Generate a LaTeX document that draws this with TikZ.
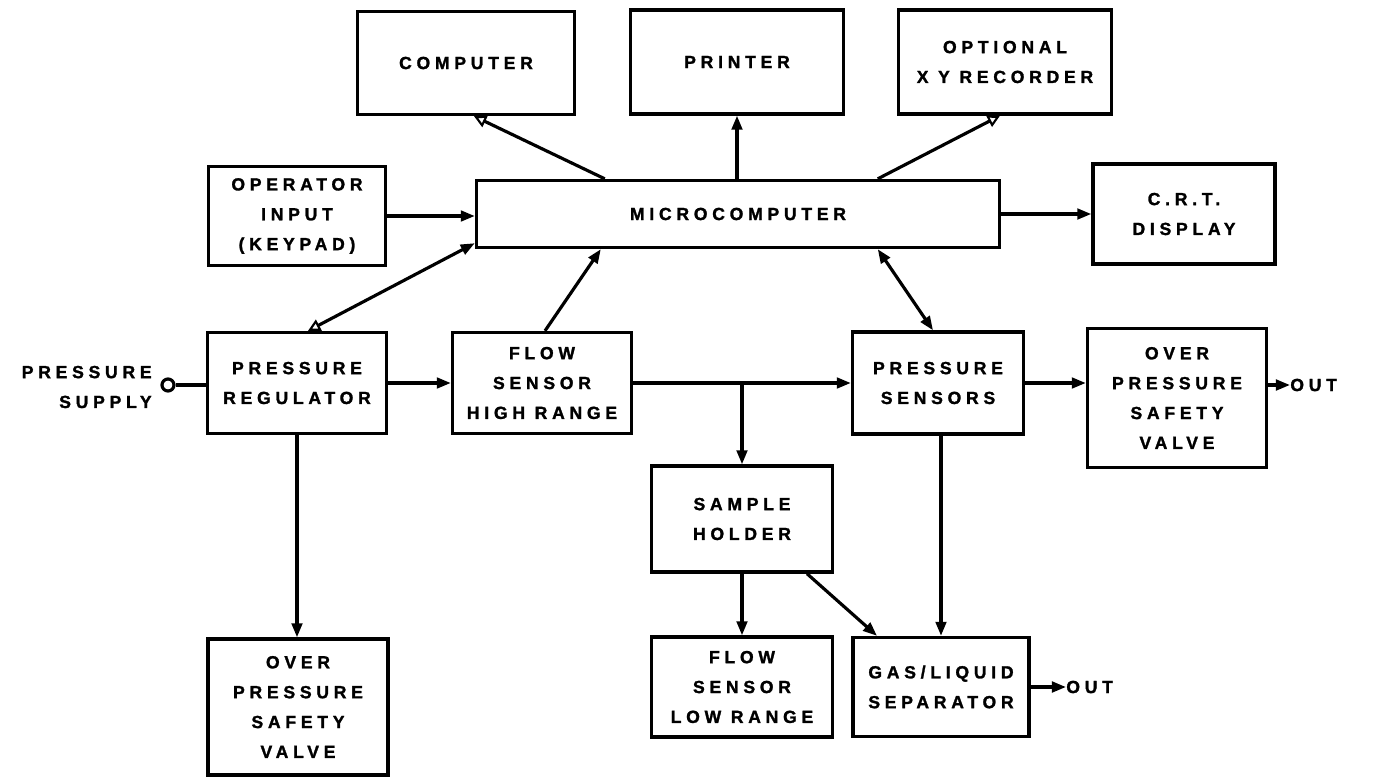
\documentclass[tikz,border=0pt]{standalone}
\usepackage{fontspec}
\newfontfamily\lblfont[LetterSpace=27,FakeBold=1.5]{Liberation Sans Bold}
\newcommand\lbl{\lblfont\fontsize{10}{17}\selectfont}
\usetikzlibrary{arrows.meta,positioning}

\begin{document}
\begin{tikzpicture}[
x=0.02cm, y=-0.02cm,
blk/.style 2 args={
  draw,
  line width=1.9pt,
  align=center,
  inner sep=0pt,
  minimum width=#1*0.02cm,
  minimum height=#2*0.02cm,
  font=\lbl
},
lab/.style={
  inner sep=0pt,
  font=\lbl
},
con/.style={
  line width=1.8pt,
  -{Triangle[length=8pt,width=6pt]}
},
ocon/.style={
  line width=1.8pt,
  -{Triangle[open,length=7pt,width=7pt,line width=1.2pt]}
},
bcon/.style={
  line width=1.8pt,
  {Triangle[length=8pt,width=6pt]}-{Triangle[length=8pt,width=6pt]}
}
]
\useasboundingbox (0,0) rectangle (1374,778);

% top row
\node[blk={217}{103}] (comp) at (466,63) {COMPUTER};
\node[blk={213}{104}] (prn) at (737,62) {PRINTER};
\node[blk={213}{104}] (xyrec) at (1005,62) {OPTIONAL\\X Y RECORDER};

% control row
\node[blk={177}{99}] (opin) at (297,216) {OPERATOR\\INPUT\\(KEYPAD)};
\node[blk={523}{67}] (micro) at (738,214) {MICROCOMPUTER};
\node[blk={182}{100}] (crt) at (1184,214) {C.R.T.\\DISPLAY};

% gas line
\node[lab,align=right,anchor=east] (supl) at (152,387) {PRESSURE\\SUPPLY};
\node[draw,circle,line width=1.8pt,minimum size=0.24cm,inner sep=0pt] (supc) at (168,385) {};
\node[blk={179}{101}] (preg) at (297,383) {PRESSURE\\REGULATOR};
\node[blk={179}{101}] (fshi) at (542,383) {FLOW\\SENSOR\\HIGH RANGE};
\node[blk={171}{102}] (psens) at (938,383) {PRESSURE\\SENSORS};
\node[blk={179}{139}] (opvr) at (1177,398) {OVER\\PRESSURE\\SAFETY\\VALVE};
\node[lab,anchor=west] (outr) at (1290,385) {OUT};

% lower part
\node[blk={181}{106}] (shold) at (742,519) {SAMPLE\\HOLDER};
\node[blk={180}{136}] (opvl) at (298,707) {OVER\\PRESSURE\\SAFETY\\VALVE};
\node[blk={181}{100}] (fslo) at (742,687) {FLOW\\SENSOR\\LOW RANGE};
\node[blk={176}{99}] (gls) at (941,687) {GAS/LIQUID\\SEPARATOR};
\node[lab,anchor=west] (outb) at (1066,687) {OUT};

% signals
\draw[ocon] ([xshift=2.6cm]micro.north west) -- ([xshift=0.16cm]comp.south);
\draw[con] (micro.north -| prn.south) -- (prn.south);
\draw[ocon] ([xshift=8.06cm]micro.north west) -- ([xshift=-0.1cm]xyrec.south);
\draw[con] (opin.east) -- (opin.east -| micro.west);
\draw[con] (micro.east) -- (micro.east -| crt.west);
\draw[line width=1.8pt,{Triangle[open,length=7pt,width=7pt,line width=1.2pt]}-{Triangle[length=8pt,width=6pt]}]
  ([xshift=0.22cm]preg.north) -- ([yshift=0.12cm]micro.south west);
\draw[con] ([xshift=0.06cm]fshi.north) -- ([xshift=2.52cm]micro.south west);
\draw[bcon] ([xshift=8.06cm]micro.south west) -- ([xshift=-0.1cm]psens.north);

% flow
\draw[line width=1.8pt] (supc) -- (preg.west |- supc);
\draw[con] (preg) -- (fshi);
\draw[con] (fshi) -- (psens);
\draw[con] (fshi.east -| shold.north) -- (shold.north);
\draw[con] (psens.east) -- (psens.east -| opvr.west);
\draw[con] (opvr.east |- outr.west) -- (outr.west);
\draw[con] (preg.south) -- (preg.south |- opvl.north);
\draw[con] (shold) -- (fslo);
\draw[con] ([xshift=1.3cm]shold.south) -- ([xshift=-1.28cm]gls.north);
\draw[con] (gls.north |- psens.south) -- (gls.north);
\draw[con] (gls.east |- outb.west) -- (outb.west);
\end{tikzpicture}
\end{document}
